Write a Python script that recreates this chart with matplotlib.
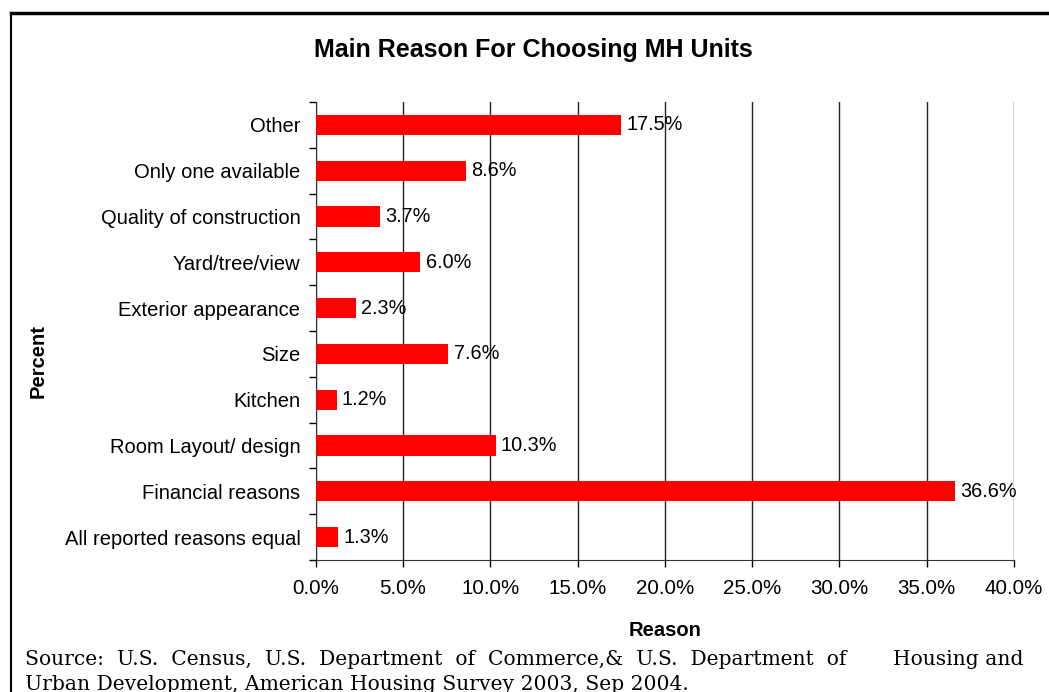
import matplotlib
matplotlib.use("Agg")
import matplotlib.pyplot as plt
import numpy as np
from matplotlib.ticker import FuncFormatter, FixedLocator

# data, listed bottom to top as drawn
reasons = ["All reported reasons equal", "Financial reasons", "Room Layout/ design",
           "Kitchen", "Size", "Exterior appearance", "Yard/tree/view",
           "Quality of construction", "Only one available", "Other"]
percent = [1.3, 36.6, 10.3, 1.2, 7.6, 2.3, 6.0, 3.7, 8.6, 17.5]
x_ticks = [0, 5, 10, 15, 20, 25, 30, 35, 40]

plt.rcParams['font.family'] = ['Liberation Sans', 'DejaVu Sans']

fig = plt.figure(figsize=(10.49, 6.92), dpi=100)
ax = fig.add_axes([0.301, 0.1908, 0.6656, 0.6618])

y = np.arange(len(reasons))
ax.barh(y, percent, height=0.44, color="#ff0000", zorder=3)
for yi, v in zip(y, percent):
    ax.text(v + 0.3, yi, f"{v:.1f}%", va="center", ha="left", fontsize=14.3, zorder=4)

ax.set_xlim(0, 40)
ax.set_ylim(-0.5, len(reasons) - 0.5)
ax.set_xticks(x_ticks)
ax.xaxis.set_major_formatter(FuncFormatter(lambda v, p: f"{v:.1f}%"))
ax.set_yticks(y)
ax.set_yticklabels(reasons)
ax.yaxis.set_minor_locator(FixedLocator(np.arange(-0.5, len(reasons), 1.0)))
ax.tick_params(axis="y", which="major", length=0, pad=11, labelsize=14.5)
ax.tick_params(axis="y", which="minor", length=5, width=1, direction="out")
ax.tick_params(axis="x", length=5, width=1, direction="out", labelsize=14.8, pad=9)

ax.grid(axis="x", color="#222222", linewidth=1, zorder=0)
ax.spines["top"].set_visible(False)
ax.spines["right"].set_visible(False)
ax.spines["left"].set_color("#333333")
ax.spines["bottom"].set_color("#333333")

ax.set_xlabel("Reason", fontsize=14.5, fontweight="bold", labelpad=16)
fig.text(0.036, 0.478, "Percent", rotation=90, fontsize=14.5, fontweight="bold",
         ha="center", va="center")
fig.text(0.508, 0.928, "Main Reason For Choosing MH Units", fontsize=18,
         fontweight="bold", ha="center", va="center")

# outer frame lines
fig.add_artist(plt.Line2D([0.0105, 1.0], [0.9815, 0.9815], color="black", linewidth=2.5,
                          transform=fig.transFigure))
fig.add_artist(plt.Line2D([0.0105, 0.0105], [0.0, 0.9815], color="black", linewidth=1.5,
                          transform=fig.transFigure))

# justified source note, first line has widened spaces
src1 = "Source:  U.S.  Census,  U.S.  Department  of  Commerce,&  U.S.  Department  of"
src2 = "Urban Development, American Housing Survey 2003, Sep 2004."
fig.text(0.024, 0.047, src1, fontsize=14.6, family="DejaVu Serif", va="center")
fig.text(0.976, 0.047, "Housing and", fontsize=14.6, family="DejaVu Serif",
         va="center", ha="right")
fig.text(0.024, 0.011, src2, fontsize=14.6, family="DejaVu Serif", va="center")

fig.savefig("out.png", dpi=100)
